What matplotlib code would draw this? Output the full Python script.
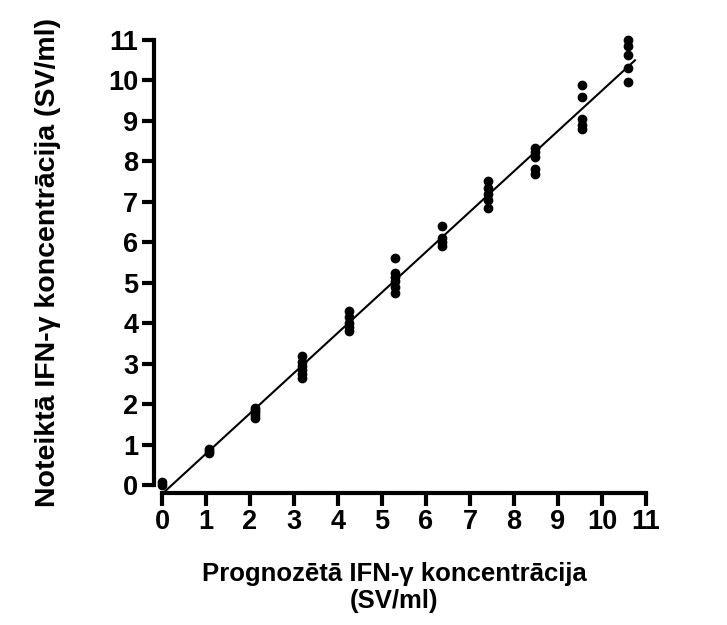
import numpy as np
import matplotlib
matplotlib.use("Agg")
import matplotlib.pyplot as plt

plt.rcParams["font.family"] = ["Liberation Sans", "DejaVu Sans"]
plt.rcParams["font.weight"] = "bold"

# --- данные ---
x_levels = [0.0, 1.06, 2.12, 3.18, 4.24, 5.3, 6.36, 7.42, 8.48, 9.54, 10.6]
y_groups = [
    [0.0, 0.08],
    [0.8, 0.85, 0.9],
    [1.65, 1.72, 1.8, 1.85, 1.9],
    [2.65, 2.75, 2.85, 2.95, 3.05, 3.2],
    [3.8, 3.9, 4.0, 4.15, 4.3],
    [4.75, 4.9, 5.05, 5.15, 5.25, 5.6],
    [5.9, 6.0, 6.1, 6.4],
    [6.85, 7.05, 7.2, 7.35, 7.52],
    [7.7, 7.8, 8.1, 8.22, 8.32],
    [8.8, 8.9, 9.05, 9.58, 9.88],
    [9.95, 10.3, 10.62, 10.85, 11.0],
]
ticks = list(range(0, 12))

x_all = []
y_all = []
for xv, ys in zip(x_levels, y_groups):
    x_all += [xv] * len(ys)
    y_all += ys
x_all = np.array(x_all)
y_all = np.array(y_all)

# линейная регрессия
k, b = np.polyfit(x_all, y_all, 1)
x_line = np.array([0.05, 10.75])

fig = plt.figure(figsize=(7.27, 6.25), dpi=100)
ax = fig.add_axes([0.2228, 0.224, 0.6657, 0.712])

ax.plot(x_all, y_all, "o", color="black", markersize=6, clip_on=False, zorder=3)
ax.plot(x_line, k * x_line + b, color="black", linewidth=1.5, clip_on=False)

ax.set_xlim(0, 11)
ax.set_ylim(0, 11)
ax.set_xticks(ticks)
ax.set_yticks(ticks)

for s in ["top", "right"]:
    ax.spines[s].set_visible(False)
for s in ["left", "bottom"]:
    ax.spines[s].set_linewidth(3)
    ax.spines[s].set_position(("outward", 6))

ax.tick_params(width=3, length=9, labelsize=19.5, pad=2)
for lab in ax.get_xticklabels() + ax.get_yticklabels():
    lab.set_fontweight("bold")

ax.set_xlabel("Prognozētā IFN-γ koncentrācija\n(SV/ml)", fontsize=18.5,
              fontweight="bold", linespacing=1.2)
ax.xaxis.set_label_coords(0.48, -0.172)
ax.xaxis.label.set_verticalalignment("top")
ax.set_ylabel("Noteiktā IFN-γ koncentrācija (SV/ml)", fontsize=20.5,
              fontweight="bold", labelpad=34)

fig.savefig("out.png", dpi=100)
